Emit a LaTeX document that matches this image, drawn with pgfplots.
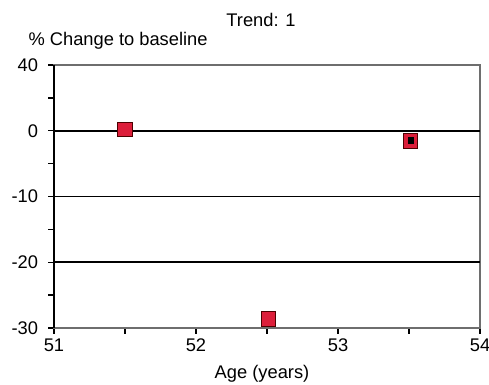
\documentclass[border=0pt]{standalone}
\usepackage{pgfplots}
\pgfplotsset{compat=1.18}
\usepackage{fontspec}
\setmainfont{Liberation Sans}
\definecolor{mred}{RGB}{220,30,58}
\definecolor{bgray}{RGB}{110,110,110}
\begin{document}
\begin{tikzpicture}[x=1pt,y=1pt]
\useasboundingbox (0,0) rectangle (489,384);
\begin{axis}[
  at={(54pt,56pt)}, anchor=south west,
  scale only axis, width=426pt, height=263pt,
  xmin=51, xmax=54, ymin=-30, ymax=10,
  xtick={51,52,53,54}, minor xtick={51.5,52.5,53.5},
  ytick={-30,-20,-10,0,10}, yticklabels={-30,-20,-10,0,40},
  minor ytick={-25,-15,-5,5},
  tick align=outside, tick pos=left,
  major tick length=5.5pt, minor tick length=5.5pt,
  every tick/.style={black, line width=1.3pt},
  axis line style={draw=bgray, line width=1.2pt},
  tick label style={font=\fontsize{18.3}{21}\selectfont},
  /pgf/number format/assume math mode=true,
  xticklabel style={yshift=-2pt},
  yticklabel style={xshift=-7pt},
  extra y ticks={-20,-10,0},
  extra y tick labels={},
  extra y tick style={grid=major, major grid style={black, line width=1.7pt}, tick style={draw=none}},
  clip=false,
]
\draw[black, line width=1.3pt] (rel axis cs:0,0) -- (rel axis cs:0,1);
\addplot[only marks, mark=square*, mark size=7.3pt, mark options={fill=mred, draw=black!70!red, line width=0.6pt}]
  coordinates {(51.5,0.2) (52.51,-28.6) (53.51,-1.5)};
\addplot[only marks, mark=square*, mark size=2.3pt, mark options={fill=black, draw=black, yscale=1.3}]
  coordinates {(53.51,-1.5)};
\end{axis}
\node[font=\fontsize{18.3}{21}\selectfont] at (261,364) {Trend: 1};
\node[font=\fontsize{18.3}{21}\selectfont, anchor=west] at (25,343) {\% Change to baseline};
\node[font=\fontsize{18.3}{21}\selectfont] at (262,10) {Age (years)};
\end{tikzpicture}
\end{document}
